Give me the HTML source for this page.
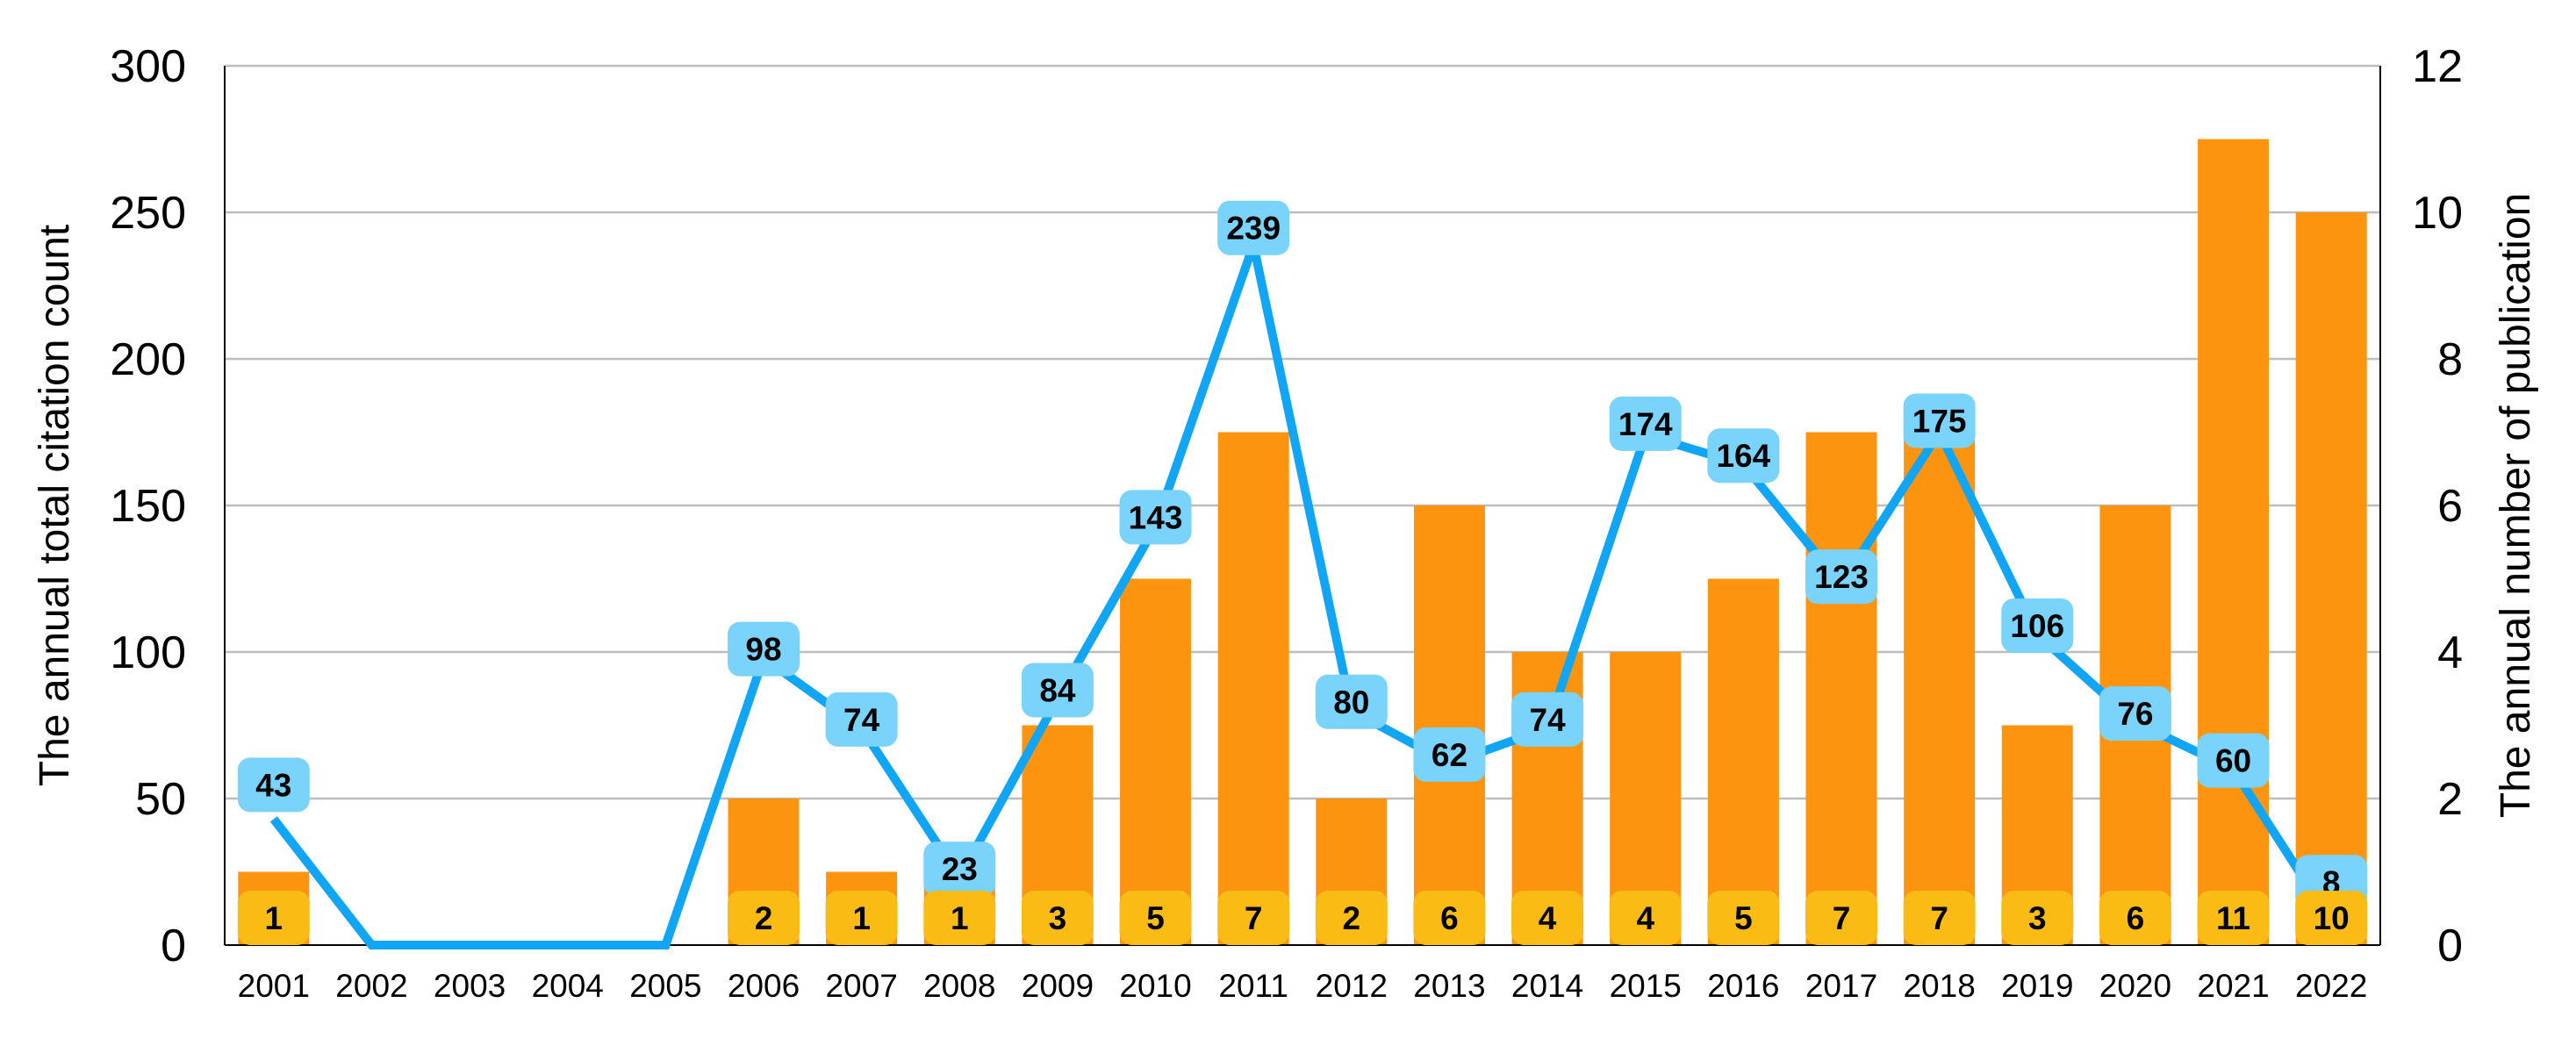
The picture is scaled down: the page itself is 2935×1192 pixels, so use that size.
<!DOCTYPE html>
<html><head><meta charset="utf-8">
<style>
html,body{margin:0;padding:0;background:#fff;}
svg{display:block;}
text{font-family:"Liberation Sans",Arial,sans-serif;}
</style></head>
<body>
<svg id="chart" width="2935" height="1192" viewBox="0 0 2935 1192" xmlns="http://www.w3.org/2000/svg">
<g id="grid"></g>
<g id="bars"></g>
<g id="axes"></g>
<g id="line"></g>
<g id="labels"></g>
<g id="ticks"></g>
<text transform="translate(78,576) rotate(-90)" text-anchor="middle" font-size="48" fill="#000">The annual total citation count</text>
<text transform="translate(2882,576) rotate(-90)" text-anchor="middle" font-size="48" fill="#000">The annual number of publication</text>
</svg>
<script>
const years = ["2001","2002","2003","2004","2005","2006","2007","2008","2009","2010","2011","2012","2013","2014","2015","2016","2017","2018","2019","2020","2021","2022"];
const publications = [1,0,0,0,0,2,1,1,3,5,7,2,6,4,4,5,7,7,3,6,11,10];
const citations = [43,0,0,0,0,98,74,23,84,143,239,80,62,74,174,164,123,175,106,76,60,8];
const leftTicks = [0,50,100,150,200,250,300];
const rightTicks = [0,2,4,6,8,10,12];
const labelNudge = [-39,0,0,0,0,-10,-10,-10,-10,-10,-19,-10,-10,-10,-13,-10,-9,-13,-10,-10,-10,-45];

const NS="http://www.w3.org/2000/svg";
const L=256,R=2712,T=75,B=1077;
const band=(R-L)/years.length;
const xC=i=>L+band*(i+0.5);
const yL=v=>B-(v/300)*(B-T);
const yR=v=>B-(v/12)*(B-T);
function mk(tag,attrs,parent){const e=document.createElementNS(NS,tag);for(const k in attrs)e.setAttribute(k,attrs[k]);parent.appendChild(e);return e;}
const g=id=>document.getElementById(id);

leftTicks.forEach(v=>{
  const ln=mk('line',{x1:L,x2:R,y1:yL(v),y2:yL(v),stroke:v===0?'#000':'#bdbdbd','stroke-width':v===0?2:2.5},g('grid'));
  
  
  const t=mk('text',{x:212,y:yL(v)+18,'text-anchor':'end','font-size':52,fill:'#000'},g('ticks'));
  t.textContent=v;
  
  
});
rightTicks.forEach(v=>{
  const t=mk('text',{x:2806,y:yR(v)+18,'text-anchor':'end','font-size':52,fill:'#000'},g('ticks'));
  t.textContent=v;
  
  
});
const bw=81;
publications.forEach((v,i)=>{
  if(v<=0)return;
  const r=mk('rect',{x:xC(i)-bw/2,y:yR(v),width:bw,height:B-yR(v),fill:'#fd9410'},g('bars'));
  
  
});
const la=mk('line',{x1:L,x2:L,y1:T,y2:B,stroke:'#000','stroke-width':2},g('axes'));


const ra=mk('line',{x1:R,x2:R,y1:T,y2:B,stroke:'#000','stroke-width':2},g('axes'));


const ba=mk('line',{x1:L,x2:R,y1:B,y2:B,stroke:'#000','stroke-width':2},g('axes'));


years.forEach((y,i)=>{
  const t=mk('text',{x:xC(i),y:1136,'text-anchor':'middle','font-size':37,fill:'#000'},g('ticks'));
  t.textContent=y;
  
  
});
const pts=citations.map((v,i)=>xC(i)+','+yL(v)).join(' ');
const pl=mk('polyline',{points:pts,fill:'none',stroke:'#10a5f5','stroke-width':10,'stroke-linejoin':'miter'},g('line'));


citations.forEach((v,i)=>{
  if(v<=0)return;
  const cy=yL(v)+labelNudge[i];
  const r=mk('rect',{x:xC(i)-41,y:cy-31,width:82,height:62,rx:14,fill:'#79d3fa'},g('labels'));
  
  
  const t=mk('text',{x:xC(i),y:cy+13,'text-anchor':'middle','font-size':37,'font-weight':'bold',fill:'#000'},g('labels'));
  t.textContent=v;
  
  
});
publications.forEach((v,i)=>{
  if(v<=0)return;
  const cy=B-31;
  const r=mk('rect',{x:xC(i)-41,y:cy-31,width:82,height:62,rx:14,fill:'#f9bb14'},g('labels'));
  
  
  const t=mk('text',{x:xC(i),y:cy+13,'text-anchor':'middle','font-size':37,'font-weight':'bold',fill:'#000'},g('labels'));
  t.textContent=v;
  
  
});
</script>
</body></html>
